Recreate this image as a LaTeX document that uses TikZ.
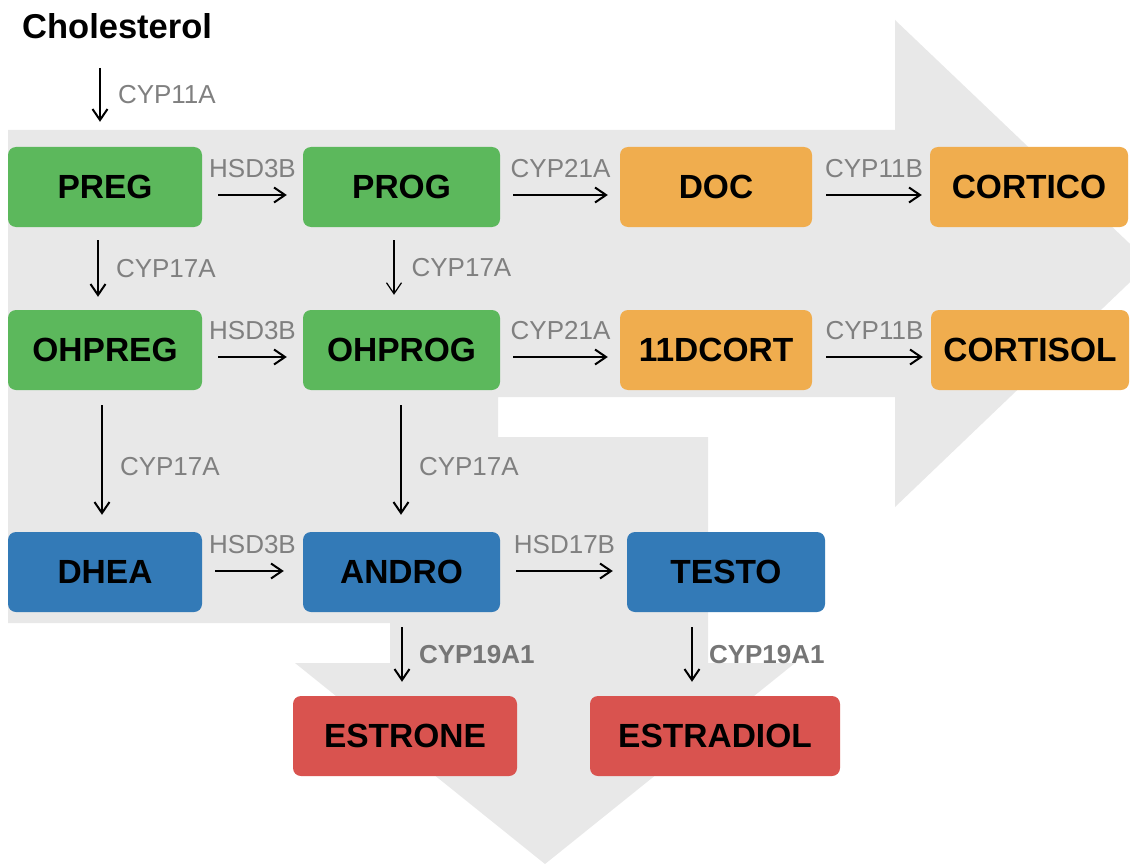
\documentclass[tikz,border=0pt]{standalone}
\usepackage{fontspec}
\setmainfont{Liberation Sans}
\usetikzlibrary{arrows.meta,calc}
\definecolor{bggray}{RGB}{232,232,232}
\definecolor{cgreen}{RGB}{92,184,92}
\definecolor{corange}{RGB}{240,173,78}
\definecolor{cblue}{RGB}{51,122,183}
\definecolor{cred}{RGB}{217,83,79}
\definecolor{lblgray}{RGB}{128,128,128}
\definecolor{lbldark}{RGB}{118,118,118}
\tikzset{
  box/.style={rounded corners=8pt, minimum height=80pt, inner sep=0pt,
    font=\fontsize{33.5}{38}\selectfont\bfseries, text=black},
  gbox/.style={box, fill=cgreen},
  obox/.style={box, fill=corange},
  bbox/.style={box, fill=cblue},
  rbox/.style={box, fill=cred},
  arr/.style={line width=2pt, -{Straight Barb[length=11pt,width=15pt]}},
  thinarr/.style={line width=1.2pt, -{Straight Barb[length=11pt,width=15pt]}},
  lbl/.style={inner sep=0pt, text=lblgray, font=\fontsize{26}{30}\selectfont},
  blbl/.style={inner sep=0pt, text=lbldark, font=\fontsize{26}{30}\selectfont\bfseries},
  hl/.style={lbl, midway, anchor=base, yshift=18pt},
  vl/.style={lbl, midway, anchor=west, xshift=17pt},
  vbl/.style={blbl, midway, anchor=west, xshift=16pt}
}
\begin{document}
\begin{tikzpicture}[x=1pt,y=-1pt]
\useasboundingbox (0,0) rectangle (1130,864);
\clip (0,0) rectangle (1130,864);
\fill[white] (0,0) rectangle (1130,864);
% background arrows
\fill[bggray] (8,130) -- (895,130) -- (895,20) -- (1150,263) -- (895,507) -- (895,397)
  -- (498,397) -- (498,437) -- (708,437) -- (708,663) -- (795,663) -- (545,864)
  -- (295,663) -- (390,663) -- (390,623) -- (8,623) -- cycle;
% title
\node[inner sep=0pt, anchor=base west, font=\fontsize{34.5}{40}\selectfont\bfseries] (chol) at (22,39) {Cholesterol};
% nodes
\node[gbox, minimum width=194pt] (PREG) at (105,187) {PREG};
\node[gbox, minimum width=197pt] (PROG) at (401.5,187) {PROG};
\node[obox, minimum width=192pt] (DOC) at (716,187) {DOC};
\node[obox, minimum width=198pt] (CORTICO) at (1029,187) {CORTICO};
\node[gbox, minimum width=194pt] (OHPREG) at (105,350) {OHPREG};
\node[gbox, minimum width=197pt] (OHPROG) at (401.5,350) {OHPROG};
\node[obox, minimum width=192pt] (DCORT) at (716,350) {11DCORT};
\node[obox, minimum width=198pt] (CORTISOL) at (1030,350) {CORTISOL};
\node[bbox, minimum width=194pt] (DHEA) at (105,572) {DHEA};
\node[bbox, minimum width=197pt] (ANDRO) at (401.5,572) {ANDRO};
\node[bbox, minimum width=198pt] (TESTO) at (726,572) {TESTO};
\node[rbox, minimum width=224pt] (ESTRONE) at (405,736) {ESTRONE};
\node[rbox, minimum width=250pt] (ESTRADIOL) at (715,736) {ESTRADIOL};
% horizontal arrows
\draw[arr] ($(PREG.east)+(16,8)$) -- ($(PROG.west)+(-16,8)$) node[hl] {HSD3B};
\draw[arr] ($(PROG.east)+(13,8)$) -- ($(DOC.west)+(-12,8)$) node[hl] {CYP21A};
\draw[arr] ($(DOC.east)+(14,8)$) -- ($(CORTICO.west)+(-8,8)$) node[hl] {CYP11B};
\draw[arr] ($(OHPREG.east)+(16,7)$) -- ($(OHPROG.west)+(-16,7)$) node[hl] {HSD3B};
\draw[arr] ($(OHPROG.east)+(13,7)$) -- ($(DCORT.west)+(-12,7)$) node[hl] {CYP21A};
\draw[arr] ($(DCORT.east)+(14,7)$) -- ($(CORTISOL.west)+(-8,7)$) node[hl] {CYP11B};
\draw[arr] ($(DHEA.east)+(13,-1)$) -- ($(ANDRO.west)+(-19,-1)$) node[hl, xshift=3pt] {HSD3B};
\draw[arr] ($(ANDRO.east)+(16,-1)$) -- ($(TESTO.west)+(-14,-1)$) node[hl] {HSD17B};
% vertical arrows
\draw[arr] ($(chol.base west)+(78,29)$) -- ($(PREG.north)+(-5,-25)$) node[vl] {CYP11A};
\draw[arr] ($(PREG.south)+(-7,13)$) -- ($(OHPREG.north)+(-7,-13)$) node[vl] {CYP17A};
\draw[thinarr] ($(PROG.south)+(-7.5,13)$) -- ($(OHPROG.north)+(-7.5,-15)$) node[vl] {CYP17A};
\draw[arr] ($(OHPREG.south)+(-3,15)$) -- ($(DHEA.north)+(-3,-17)$) node[vl, yshift=-7pt] {CYP17A};
\draw[arr] ($(OHPROG.south)+(-0.5,15)$) -- ($(ANDRO.north)+(-0.5,-17)$) node[vl, yshift=-7pt] {CYP17A};
\draw[arr] ($(ANDRO.south)+(0.5,15)$) -- ($(ESTRONE.north)+(-3,-14)$) node[vbl] {CYP19A1};
\draw[arr] ($(TESTO.south)+(-34,15)$) -- ($(ESTRADIOL.north)+(-23,-14)$) node[vbl] {CYP19A1};
\end{tikzpicture}
\end{document}
